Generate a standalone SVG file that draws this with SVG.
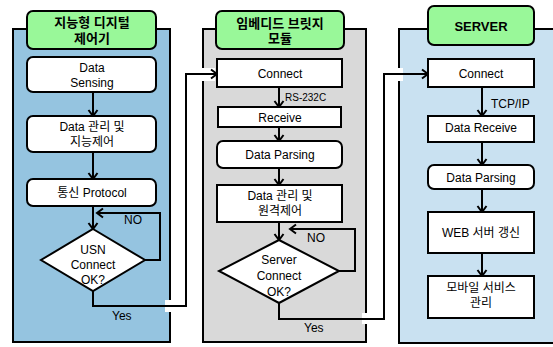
<svg xmlns="http://www.w3.org/2000/svg" width="553" height="347" viewBox="0 0 553 347">
  <style>
    .panel { stroke: #000; stroke-width: 2; }
    .hdr { fill: #99F899; stroke: #000; stroke-width: 2; }
    .box { fill: #fff; stroke: #000; stroke-width: 2; }
    .t { font-family: "Liberation Sans", "Noto Sans CJK KR", sans-serif; font-size: 12px; fill: #000; text-anchor: middle; }
    .h { font-family: "Liberation Sans", "Noto Sans CJK KR", sans-serif; font-size: 13px; font-weight: bold; fill: #000; text-anchor: middle; }
    .lbl { font-family: "Liberation Sans", "Noto Sans CJK KR", sans-serif; font-size: 12px; fill: #000; }
    .ln { fill: none; stroke: #000; stroke-width: 2; }
    .gap { fill: #fff; }
  </style>
  <defs>
    <marker id="arr" markerUnits="userSpaceOnUse" markerWidth="12" markerHeight="12" refX="8" refY="6" orient="auto" overflow="visible">
      <path d="M2,1.5 L8,6 L2,10.5" fill="none" stroke="#000" stroke-width="2"/>
    </marker>
  </defs>

  <!-- lanes -->
  <g id="lane-controller">
    <rect class="panel" x="13" y="29" width="157" height="313" fill="#95C4E0"/>
    <rect class="hdr" x="27" y="11" width="129" height="38" rx="6"/>
    <text class="h" x="92" y="27">지능형 디지털</text>
    <text class="h" x="92" y="43">제어기</text>
  </g>
  <g id="lane-bridge">
    <rect class="panel" x="203" y="29" width="163" height="313" fill="#D9D9D9"/>
    <rect class="hdr" x="216" y="11" width="128" height="38" rx="6"/>
    <text class="h" x="280" y="28">임베디드 브릿지</text>
    <text class="h" x="280" y="43">모듈</text>
  </g>
  <g id="lane-server">
    <rect class="panel" x="399" y="29" width="170" height="314" fill="#C9E1F1"/>
    <rect class="hdr" x="428" y="6" width="106" height="39" rx="6"/>
    <text class="h" x="481" y="31">SERVER</text>
  </g>

  <!-- connectors -->
  <g id="connectors">
    <line class="ln" x1="93" y1="92" x2="93" y2="116" marker-end="url(#arr)"/>
    <line class="ln" x1="93" y1="152" x2="93" y2="179" marker-end="url(#arr)"/>
    <line class="ln" x1="93" y1="206" x2="93" y2="229" marker-end="url(#arr)"/>
    <polyline class="ln" points="145,260 160,260 160,213 97,213" marker-end="url(#arr)"/>
    <rect class="gap" x="165" y="300" width="8" height="12"/>
    <rect class="gap" x="200" y="68" width="15" height="13"/>
    <polyline class="ln" points="93,291 93,306 186,306 186,74 217,74" marker-end="url(#arr)"/>

    <line class="ln" x1="279" y1="87" x2="279" y2="107" marker-end="url(#arr)"/>
    <line class="ln" x1="279" y1="127" x2="279" y2="141" marker-end="url(#arr)"/>
    <line class="ln" x1="279" y1="168" x2="279" y2="185" marker-end="url(#arr)"/>
    <line class="ln" x1="279" y1="222" x2="279" y2="240" marker-end="url(#arr)"/>
    <polyline class="ln" points="339,271 355,271 355,229 290,229" marker-end="url(#arr)"/>
    <rect class="gap" x="362" y="313" width="8" height="11"/>
    <rect class="gap" x="396" y="68" width="7" height="13"/>
    <polyline class="ln" points="279,303 279,319 384,319 384,74 428,74" marker-end="url(#arr)"/>

    <line class="ln" x1="482" y1="87" x2="482" y2="116" marker-end="url(#arr)"/>
    <line class="ln" x1="482" y1="142" x2="482" y2="165" marker-end="url(#arr)"/>
    <line class="ln" x1="482" y1="189" x2="482" y2="212" marker-end="url(#arr)"/>
    <line class="ln" x1="482" y1="253" x2="482" y2="276" marker-end="url(#arr)"/>

    <text class="lbl" x="124" y="224">NO</text>
    <text class="lbl" x="112" y="320">Yes</text>
    <text class="lbl" x="285" y="101" style="font-size:10px">RS-232C</text>
    <text class="lbl" x="307" y="242">NO</text>
    <text class="lbl" x="304" y="332">Yes</text>
    <text class="lbl" x="491" y="108">TCP/IP</text>
  </g>

  <!-- controller steps -->
  <g id="data-sensing">
    <rect class="box" x="27" y="57" width="129" height="35" rx="6"/>
    <text class="t" x="92" y="72">Data</text>
    <text class="t" x="92" y="87">Sensing</text>
  </g>
  <g id="data-manage-ctrl">
    <rect class="box" x="27" y="116" width="129" height="36" rx="6"/>
    <text class="t" x="92" y="131">Data 관리 및</text>
    <text class="t" x="92" y="146">지능제어</text>
  </g>
  <g id="protocol">
    <rect class="box" x="27" y="179" width="129" height="27" rx="6"/>
    <text class="t" x="92" y="197">통신 Protocol</text>
  </g>
  <g id="usn-check">
    <polygon class="box" points="93,229 145,260 93,291 41,260"/>
    <text class="t" x="93" y="254">USN</text>
    <text class="t" x="93" y="269">Connect</text>
    <text class="t" x="93" y="284">OK?</text>
  </g>

  <!-- bridge steps -->
  <g id="bridge-connect">
    <rect class="box" x="217" y="59" width="125" height="28"/>
    <text class="t" x="280" y="78">Connect</text>
  </g>
  <g id="bridge-receive">
    <rect class="box" x="218" y="107" width="123" height="20"/>
    <text class="t" x="280" y="122">Receive</text>
  </g>
  <g id="bridge-parsing">
    <rect class="box" x="217" y="141" width="125" height="27" rx="6"/>
    <text class="t" x="280" y="159">Data Parsing</text>
  </g>
  <g id="bridge-remote">
    <rect class="box" x="217" y="185" width="125" height="37"/>
    <text class="t" x="280" y="200">Data 관리 및</text>
    <text class="t" x="280" y="215">원격제어</text>
  </g>
  <g id="server-check">
    <polygon class="box" points="279,240 339,271 279,303 219,271"/>
    <text class="t" x="279" y="264">Server</text>
    <text class="t" x="279" y="280">Connect</text>
    <text class="t" x="279" y="296">OK?</text>
  </g>

  <!-- server steps -->
  <g id="server-connect">
    <rect class="box" x="428" y="59" width="106" height="28"/>
    <text class="t" x="481" y="78">Connect</text>
  </g>
  <g id="server-receive">
    <rect class="box" x="428" y="116" width="106" height="26"/>
    <text class="t" x="481" y="132">Data Receive</text>
  </g>
  <g id="server-parsing">
    <rect class="box" x="428" y="165" width="106" height="24" rx="6"/>
    <text class="t" x="481" y="182">Data Parsing</text>
  </g>
  <g id="web-update">
    <rect class="box" x="428" y="212" width="106" height="41"/>
    <text class="t" x="481" y="237">WEB 서버 갱신</text>
  </g>
  <g id="mobile-service">
    <rect class="box" x="428" y="276" width="106" height="42"/>
    <text class="t" x="481" y="292">모바일 서비스</text>
    <text class="t" x="481" y="307">관리</text>
  </g>
</svg>
